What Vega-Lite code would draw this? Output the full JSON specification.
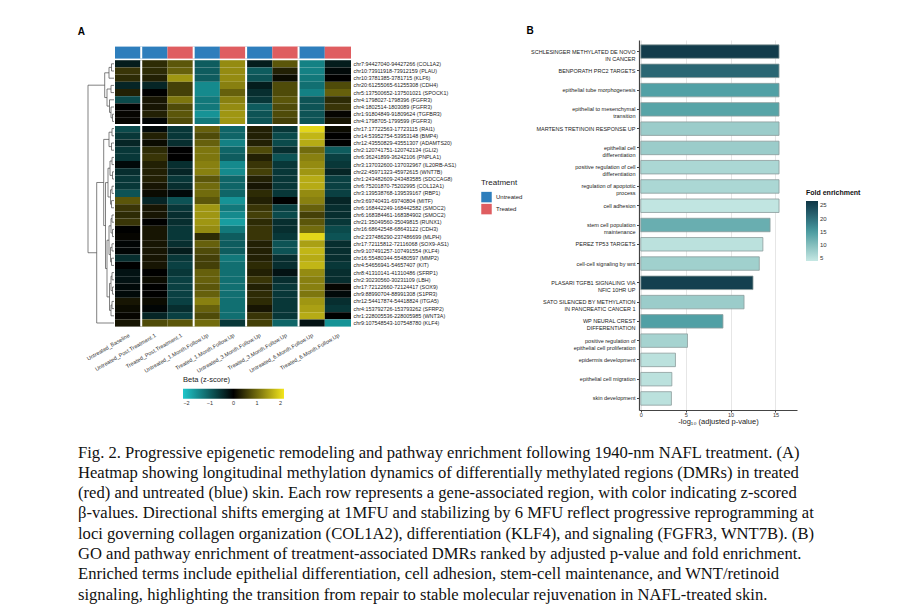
{
"$schema":"https://vega.github.io/schema/vega-lite/v6.json",
"background":"white",
"padding":{"left":77,"top":26,"right":5,"bottom":5},
"config":{"font":"Liberation Sans","view":{"stroke":null}},
"datasets":{
"regions":[
{"r":1,"region":"chr7:94427040-94427266 (COL1A2)"},
{"r":2,"region":"chr10:73911918-73912159 (PLAU)"},
{"r":3,"region":"chr10:3781385-3781715 (KLF6)"},
{"r":4,"region":"chr20:61255065-61255308 (CDH4)"},
{"r":5,"region":"chr5:137500652-137501021 (SPOCK1)"},
{"r":6,"region":"chr4:1798027-1798396 (FGFR3)"},
{"r":7,"region":"chr4:1802514-1803089 (FGFR3)"},
{"r":8,"region":"chr1:91804849-91809624 (TGFBR3)"},
{"r":9,"region":"chr4:1798705-1799599 (FGFR3)"},
{"r":10,"region":"chr17:17722563-17723115 (RAI1)"},
{"r":11,"region":"chr14:53952754-53953148 (BMP4)"},
{"r":12,"region":"chr12:43550829-43551307 (ADAMTS20)"},
{"r":13,"region":"chr2:120741751-120742134 (GLI2)"},
{"r":14,"region":"chr6:36241899-36242106 (PNPLA1)"},
{"r":15,"region":"chr3:137032600-137032967 (IL20RB-AS1)"},
{"r":16,"region":"chr22:45971323-45972615 (WNT7B)"},
{"r":17,"region":"chr1:243482609-243483585 (SDCCAG8)"},
{"r":18,"region":"chr6:75201870-75202995 (COL12A1)"},
{"r":19,"region":"chr3:139538768-139539167 (RBP1)"},
{"r":20,"region":"chr3:69740431-69740804 (MITF)"},
{"r":21,"region":"chr6:168442249-168442582 (SMOC2)"},
{"r":22,"region":"chr6:168384461-168384902 (SMOC2)"},
{"r":23,"region":"chr21:35049560-35049815 (RUNX1)"},
{"r":24,"region":"chr16:68642548-68643122 (CDH3)"},
{"r":25,"region":"chr2:237486290-237486699 (MLPH)"},
{"r":26,"region":"chr17:72115812-72116068 (SOX9-AS1)"},
{"r":27,"region":"chr9:107491257-107491554 (KLF4)"},
{"r":28,"region":"chr16:55480344-55480597 (MMP2)"},
{"r":29,"region":"chr4:54656941-54657407 (KIT)"},
{"r":30,"region":"chr8:41310141-41310486 (SFRP1)"},
{"r":31,"region":"chr2:30230560-30231109 (LBH)"},
{"r":32,"region":"chr17:72122660-72124417 (SOX9)"},
{"r":33,"region":"chr9:88990704-88991308 (S1PR3)"},
{"r":34,"region":"chr12:54417874-54418824 (ITGA5)"},
{"r":35,"region":"chr4:153792726-153793262 (SFRP2)"},
{"r":36,"region":"chr1:228005536-228005985 (WNT3A)"},
{"r":37,"region":"chr9:107548543-107548780 (KLF4)"}
],
"samples":[
{"s":"UB","sample":"Untreated_Baseline","treatment":"Untreated"},
{"s":"UP1","sample":"Untreated_Post.Treatment.1","treatment":"Untreated"},
{"s":"TP1","sample":"Treated_Post.Treatment.1","treatment":"Treated"},
{"s":"U1","sample":"Untreated_1.Month.Follow.Up","treatment":"Untreated"},
{"s":"T1","sample":"Treated_1.Month.Follow.Up","treatment":"Treated"},
{"s":"U3","sample":"Untreated_3.Month.Follow.Up","treatment":"Untreated"},
{"s":"T3","sample":"Treated_3.Month.Follow.Up","treatment":"Treated"},
{"s":"U6","sample":"Untreated_6.Month.Follow.Up","treatment":"Untreated"},
{"s":"T6","sample":"Treated_6.Month.Follow.Up","treatment":"Treated"}
],
"cells":[
{"r":1,"s":"UB","z":-0.3},{"r":1,"s":"UP1","z":0.4},{"r":1,"s":"TP1","z":0.8},{"r":1,"s":"U1","z":-1.0},{"r":1,"s":"T1","z":1.3},{"r":1,"s":"U3","z":-0.3},{"r":1,"s":"T3","z":0.8},{"r":1,"s":"U6","z":-1.4},{"r":1,"s":"T6","z":-0.3},
{"r":2,"s":"UB","z":0.5},{"r":2,"s":"UP1","z":0.4},{"r":2,"s":"TP1","z":0.9},{"r":2,"s":"U1","z":-1.0},{"r":2,"s":"T1","z":1.3},{"r":2,"s":"U3","z":-1.0},{"r":2,"s":"T3","z":0.3},{"r":2,"s":"U6","z":-1.4},{"r":2,"s":"T6","z":-0.1},
{"r":3,"s":"UB","z":0.4},{"r":3,"s":"UP1","z":0.3},{"r":3,"s":"TP1","z":1.4},{"r":3,"s":"U1","z":-1.0},{"r":3,"s":"T1","z":1.3},{"r":3,"s":"U3","z":-0.9},{"r":3,"s":"T3","z":0.1},{"r":3,"s":"U6","z":-1.3},{"r":3,"s":"T6","z":0.0},
{"r":4,"s":"UB","z":-0.4},{"r":4,"s":"UP1","z":-0.4},{"r":4,"s":"TP1","z":0.6},{"r":4,"s":"U1","z":-1.5},{"r":4,"s":"T1","z":1.2},{"r":4,"s":"U3","z":-0.3},{"r":4,"s":"T3","z":0.7},{"r":4,"s":"U6","z":-1.2},{"r":4,"s":"T6","z":0.7},
{"r":5,"s":"UB","z":0.3},{"r":5,"s":"UP1","z":0.0},{"r":5,"s":"TP1","z":0.6},{"r":5,"s":"U1","z":-1.5},{"r":5,"s":"T1","z":0.9},{"r":5,"s":"U3","z":-0.5},{"r":5,"s":"T3","z":0.7},{"r":5,"s":"U6","z":-1.4},{"r":5,"s":"T6","z":0.9},
{"r":6,"s":"UB","z":-0.8},{"r":6,"s":"UP1","z":0.2},{"r":6,"s":"TP1","z":1.1},{"r":6,"s":"U1","z":-1.3},{"r":6,"s":"T1","z":1.2},{"r":6,"s":"U3","z":-0.6},{"r":6,"s":"T3","z":0.8},{"r":6,"s":"U6","z":-0.9},{"r":6,"s":"T6","z":0.4},
{"r":7,"s":"UB","z":0.0},{"r":7,"s":"UP1","z":0.2},{"r":7,"s":"TP1","z":0.7},{"r":7,"s":"U1","z":-1.3},{"r":7,"s":"T1","z":1.3},{"r":7,"s":"U3","z":-1.0},{"r":7,"s":"T3","z":0.7},{"r":7,"s":"U6","z":-0.9},{"r":7,"s":"T6","z":0.5},
{"r":8,"s":"UB","z":0.05},{"r":8,"s":"UP1","z":0.3},{"r":8,"s":"TP1","z":0.8},{"r":8,"s":"U1","z":-1.6},{"r":8,"s":"T1","z":1.4},{"r":8,"s":"U3","z":-0.9},{"r":8,"s":"T3","z":0.7},{"r":8,"s":"U6","z":-0.9},{"r":8,"s":"T6","z":0.05},
{"r":9,"s":"UB","z":0.05},{"r":9,"s":"UP1","z":-0.05},{"r":9,"s":"TP1","z":0.7},{"r":9,"s":"U1","z":-1.3},{"r":9,"s":"T1","z":1.4},{"r":9,"s":"U3","z":-0.9},{"r":9,"s":"T3","z":0.6},{"r":9,"s":"U6","z":-0.9},{"r":9,"s":"T6","z":0.2},
{"r":10,"s":"UB","z":-0.8},{"r":10,"s":"UP1","z":-0.1},{"r":10,"s":"TP1","z":-0.6},{"r":10,"s":"U1","z":0.9},{"r":10,"s":"T1","z":-1.1},{"r":10,"s":"U3","z":0.3},{"r":10,"s":"T3","z":-0.6},{"r":10,"s":"U6","z":2.0},{"r":10,"s":"T6","z":0.1},
{"r":11,"s":"UB","z":-0.6},{"r":11,"s":"UP1","z":0.3},{"r":11,"s":"TP1","z":-0.6},{"r":11,"s":"U1","z":0.7},{"r":11,"s":"T1","z":-1.1},{"r":11,"s":"U3","z":0.3},{"r":11,"s":"T3","z":-0.8},{"r":11,"s":"U6","z":1.7},{"r":11,"s":"T6","z":0.0},
{"r":12,"s":"UB","z":-0.4},{"r":12,"s":"UP1","z":0.1},{"r":12,"s":"TP1","z":-0.5},{"r":12,"s":"U1","z":0.9},{"r":12,"s":"T1","z":-1.4},{"r":12,"s":"U3","z":0.3},{"r":12,"s":"T3","z":-0.8},{"r":12,"s":"U6","z":1.6},{"r":12,"s":"T6","z":0.0},
{"r":13,"s":"UB","z":-0.6},{"r":13,"s":"UP1","z":0.4},{"r":13,"s":"TP1","z":0.0},{"r":13,"s":"U1","z":1.1},{"r":13,"s":"T1","z":-1.1},{"r":13,"s":"U3","z":0.7},{"r":13,"s":"T3","z":-0.5},{"r":13,"s":"U6","z":1.0},{"r":13,"s":"T6","z":-1.0},
{"r":14,"s":"UB","z":-0.6},{"r":14,"s":"UP1","z":0.5},{"r":14,"s":"TP1","z":0.0},{"r":14,"s":"U1","z":1.1},{"r":14,"s":"T1","z":-1.0},{"r":14,"s":"U3","z":0.3},{"r":14,"s":"T3","z":-0.9},{"r":14,"s":"U6","z":1.2},{"r":14,"s":"T6","z":-0.7},
{"r":15,"s":"UB","z":-0.1},{"r":15,"s":"UP1","z":0.3},{"r":15,"s":"TP1","z":-0.5},{"r":15,"s":"U1","z":1.2},{"r":15,"s":"T1","z":-1.5},{"r":15,"s":"U3","z":0.5},{"r":15,"s":"T3","z":-0.6},{"r":15,"s":"U6","z":1.3},{"r":15,"s":"T6","z":-0.6},
{"r":16,"s":"UB","z":-0.5},{"r":16,"s":"UP1","z":0.3},{"r":16,"s":"TP1","z":-0.4},{"r":16,"s":"U1","z":1.2},{"r":16,"s":"T1","z":-1.5},{"r":16,"s":"U3","z":0.6},{"r":16,"s":"T3","z":-0.6},{"r":16,"s":"U6","z":1.4},{"r":16,"s":"T6","z":-0.4},
{"r":17,"s":"UB","z":-0.6},{"r":17,"s":"UP1","z":0.3},{"r":17,"s":"TP1","z":-0.6},{"r":17,"s":"U1","z":0.8},{"r":17,"s":"T1","z":-1.1},{"r":17,"s":"U3","z":0.3},{"r":17,"s":"T3","z":-0.6},{"r":17,"s":"U6","z":1.6},{"r":17,"s":"T6","z":-0.7},
{"r":18,"s":"UB","z":-0.6},{"r":18,"s":"UP1","z":0.2},{"r":18,"s":"TP1","z":-0.5},{"r":18,"s":"U1","z":1.0},{"r":18,"s":"T1","z":-1.1},{"r":18,"s":"U3","z":0.2},{"r":18,"s":"T3","z":-0.6},{"r":18,"s":"U6","z":1.6},{"r":18,"s":"T6","z":-0.7},
{"r":19,"s":"UB","z":-0.9},{"r":19,"s":"UP1","z":0.1},{"r":19,"s":"TP1","z":-0.1},{"r":19,"s":"U1","z":1.0},{"r":19,"s":"T1","z":-1.1},{"r":19,"s":"U3","z":0.4},{"r":19,"s":"T3","z":-0.6},{"r":19,"s":"U6","z":1.3},{"r":19,"s":"T6","z":-0.7},
{"r":20,"s":"UB","z":0.8},{"r":20,"s":"UP1","z":-0.4},{"r":20,"s":"TP1","z":-0.9},{"r":20,"s":"U1","z":0.8},{"r":20,"s":"T1","z":-1.6},{"r":20,"s":"U3","z":0.3},{"r":20,"s":"T3","z":0.0},{"r":20,"s":"U6","z":1.2},{"r":20,"s":"T6","z":-0.4},
{"r":21,"s":"UB","z":0.5},{"r":21,"s":"UP1","z":0.2},{"r":21,"s":"TP1","z":-0.6},{"r":21,"s":"U1","z":1.4},{"r":21,"s":"T1","z":-1.3},{"r":21,"s":"U3","z":0.5},{"r":21,"s":"T3","z":-0.7},{"r":21,"s":"U6","z":0.9},{"r":21,"s":"T6","z":-0.5},
{"r":22,"s":"UB","z":0.4},{"r":22,"s":"UP1","z":0.2},{"r":22,"s":"TP1","z":-0.5},{"r":22,"s":"U1","z":1.4},{"r":22,"s":"T1","z":-1.5},{"r":22,"s":"U3","z":0.6},{"r":22,"s":"T3","z":-0.8},{"r":22,"s":"U6","z":0.6},{"r":22,"s":"T6","z":-0.5},
{"r":23,"s":"UB","z":0.5},{"r":23,"s":"UP1","z":0.0},{"r":23,"s":"TP1","z":-0.5},{"r":23,"s":"U1","z":1.4},{"r":23,"s":"T1","z":-1.7},{"r":23,"s":"U3","z":0.4},{"r":23,"s":"T3","z":-0.5},{"r":23,"s":"U6","z":0.8},{"r":23,"s":"T6","z":-0.6},
{"r":24,"s":"UB","z":0.0},{"r":24,"s":"UP1","z":0.2},{"r":24,"s":"TP1","z":-0.6},{"r":24,"s":"U1","z":1.3},{"r":24,"s":"T1","z":-1.3},{"r":24,"s":"U3","z":0.5},{"r":24,"s":"T3","z":-0.5},{"r":24,"s":"U6","z":1.0},{"r":24,"s":"T6","z":-0.8},
{"r":25,"s":"UB","z":0.05},{"r":25,"s":"UP1","z":0.2},{"r":25,"s":"TP1","z":-0.6},{"r":25,"s":"U1","z":0.4},{"r":25,"s":"T1","z":-1.0},{"r":25,"s":"U3","z":0.5},{"r":25,"s":"T3","z":-0.6},{"r":25,"s":"U6","z":2.0},{"r":25,"s":"T6","z":-0.9},
{"r":26,"s":"UB","z":-0.05},{"r":26,"s":"UP1","z":0.2},{"r":26,"s":"TP1","z":-0.5},{"r":26,"s":"U1","z":0.9},{"r":26,"s":"T1","z":-1.0},{"r":26,"s":"U3","z":0.3},{"r":26,"s":"T3","z":-0.9},{"r":26,"s":"U6","z":1.5},{"r":26,"s":"T6","z":-0.5},
{"r":27,"s":"UB","z":-0.05},{"r":27,"s":"UP1","z":0.2},{"r":27,"s":"TP1","z":-0.3},{"r":27,"s":"U1","z":0.7},{"r":27,"s":"T1","z":-1.0},{"r":27,"s":"U3","z":0.3},{"r":27,"s":"T3","z":-0.9},{"r":27,"s":"U6","z":1.7},{"r":27,"s":"T6","z":-0.5},
{"r":28,"s":"UB","z":-0.5},{"r":28,"s":"UP1","z":0.2},{"r":28,"s":"TP1","z":-0.6},{"r":28,"s":"U1","z":0.6},{"r":28,"s":"T1","z":-1.3},{"r":28,"s":"U3","z":0.3},{"r":28,"s":"T3","z":-0.5},{"r":28,"s":"U6","z":1.6},{"r":28,"s":"T6","z":-0.5},
{"r":29,"s":"UB","z":0.0},{"r":29,"s":"UP1","z":0.2},{"r":29,"s":"TP1","z":-0.7},{"r":29,"s":"U1","z":0.6},{"r":29,"s":"T1","z":-1.2},{"r":29,"s":"U3","z":0.4},{"r":29,"s":"T3","z":-0.5},{"r":29,"s":"U6","z":1.7},{"r":29,"s":"T6","z":-0.6},
{"r":30,"s":"UB","z":-0.2},{"r":30,"s":"UP1","z":0.0},{"r":30,"s":"TP1","z":-0.6},{"r":30,"s":"U1","z":0.9},{"r":30,"s":"T1","z":-1.2},{"r":30,"s":"U3","z":0.3},{"r":30,"s":"T3","z":-0.2},{"r":30,"s":"U6","z":1.3},{"r":30,"s":"T6","z":-0.5},
{"r":31,"s":"UB","z":-0.2},{"r":31,"s":"UP1","z":0.1},{"r":31,"s":"TP1","z":-0.7},{"r":31,"s":"U1","z":0.9},{"r":31,"s":"T1","z":-1.2},{"r":31,"s":"U3","z":0.5},{"r":31,"s":"T3","z":-0.5},{"r":31,"s":"U6","z":1.2},{"r":31,"s":"T6","z":-0.5},
{"r":32,"s":"UB","z":-0.1},{"r":32,"s":"UP1","z":0.0},{"r":32,"s":"TP1","z":-0.7},{"r":32,"s":"U1","z":0.8},{"r":32,"s":"T1","z":-1.2},{"r":32,"s":"U3","z":0.3},{"r":32,"s":"T3","z":-0.6},{"r":32,"s":"U6","z":1.2},{"r":32,"s":"T6","z":0.05},
{"r":33,"s":"UB","z":-0.1},{"r":33,"s":"UP1","z":0.0},{"r":33,"s":"TP1","z":-0.7},{"r":33,"s":"U1","z":0.9},{"r":33,"s":"T1","z":-1.2},{"r":33,"s":"U3","z":0.4},{"r":33,"s":"T3","z":-0.6},{"r":33,"s":"U6","z":1.1},{"r":33,"s":"T6","z":-0.1},
{"r":34,"s":"UB","z":0.2},{"r":34,"s":"UP1","z":0.1},{"r":34,"s":"TP1","z":-0.7},{"r":34,"s":"U1","z":1.2},{"r":34,"s":"T1","z":-1.2},{"r":34,"s":"U3","z":0.4},{"r":34,"s":"T3","z":-0.6},{"r":34,"s":"U6","z":1.4},{"r":34,"s":"T6","z":-0.5},
{"r":35,"s":"UB","z":0.1},{"r":35,"s":"UP1","z":-0.05},{"r":35,"s":"TP1","z":-0.5},{"r":35,"s":"U1","z":0.9},{"r":35,"s":"T1","z":-1.2},{"r":35,"s":"U3","z":0.2},{"r":35,"s":"T3","z":-0.6},{"r":35,"s":"U6","z":1.5},{"r":35,"s":"T6","z":-0.6},
{"r":36,"s":"UB","z":0.05},{"r":36,"s":"UP1","z":-0.4},{"r":36,"s":"TP1","z":-0.7},{"r":36,"s":"U1","z":0.7},{"r":36,"s":"T1","z":-1.2},{"r":36,"s":"U3","z":0.5},{"r":36,"s":"T3","z":-0.6},{"r":36,"s":"U6","z":1.6},{"r":36,"s":"T6","z":0.0},
{"r":37,"s":"UB","z":0.2},{"r":37,"s":"UP1","z":0.7},{"r":37,"s":"TP1","z":0.8},{"r":37,"s":"U1","z":1.0},{"r":37,"s":"T1","z":-0.6},{"r":37,"s":"U3","z":0.6},{"r":37,"s":"T3","z":-1.1},{"r":37,"s":"U6","z":-0.2},{"r":37,"s":"T6","z":-1.6}
],
"tree":[
{"h":2.5,"pa":0.5,"pb":1.5,"ha":0,"hb":0},
{"h":5,"pa":1.0,"pb":2.5,"ha":2.5,"hb":0},
{"h":3,"pa":3.5,"pb":4.5,"ha":0,"hb":0},
{"h":1.5,"pa":7.5,"pb":8.5,"ha":0,"hb":0},
{"h":3,"pa":6.5,"pb":8.0,"ha":0,"hb":1.5},
{"h":4.5,"pa":5.5,"pb":7.25,"ha":0,"hb":3},
{"h":7,"pa":4.0,"pb":6.375,"ha":3,"hb":4.5},
{"h":9.3,"pa":1.75,"pb":5.1875,"ha":5,"hb":7},
{"h":2,"pa":9.5,"pb":10.5,"ha":0,"hb":0},
{"h":2.5,"pa":11.5,"pb":12.5,"ha":0,"hb":0},
{"h":5,"pa":10.0,"pb":12.0,"ha":2,"hb":2.5},
{"h":2,"pa":13.5,"pb":14.5,"ha":0,"hb":0},
{"h":1.5,"pa":15.5,"pb":16.5,"ha":0,"hb":0},
{"h":4,"pa":14.0,"pb":16.0,"ha":2,"hb":1.5},
{"h":2,"pa":17.5,"pb":18.5,"ha":0,"hb":0},
{"h":2.5,"pa":19.5,"pb":20.5,"ha":0,"hb":0},
{"h":3.5,"pa":18.0,"pb":20.0,"ha":2,"hb":2.5},
{"h":6,"pa":15.0,"pb":19.0,"ha":4,"hb":3.5},
{"h":2,"pa":21.5,"pb":22.5,"ha":0,"hb":0},
{"h":1.5,"pa":23.5,"pb":24.5,"ha":0,"hb":0},
{"h":3,"pa":22.0,"pb":24.0,"ha":2,"hb":1.5},
{"h":2,"pa":25.5,"pb":26.5,"ha":0,"hb":0},
{"h":2.5,"pa":27.5,"pb":28.5,"ha":0,"hb":0},
{"h":3.5,"pa":26.0,"pb":28.0,"ha":2,"hb":2.5},
{"h":5,"pa":23.0,"pb":27.0,"ha":3,"hb":3.5},
{"h":2,"pa":29.5,"pb":30.5,"ha":0,"hb":0},
{"h":1.5,"pa":31.5,"pb":32.5,"ha":0,"hb":0},
{"h":3,"pa":30.0,"pb":32.0,"ha":2,"hb":1.5},
{"h":2,"pa":33.5,"pb":34.5,"ha":0,"hb":0},
{"h":3,"pa":34.0,"pb":35.5,"ha":2,"hb":0},
{"h":4.5,"pa":31.0,"pb":34.75,"ha":3,"hb":3},
{"h":7,"pa":25.0,"pb":32.875,"ha":5,"hb":4.5},
{"h":8.5,"pa":17.0,"pb":28.9375,"ha":6,"hb":7},
{"h":10.3,"pa":11.0,"pb":22.96875,"ha":5,"hb":8.5},
{"h":17.3,"pa":16.984,"pb":36.5,"ha":10.3,"hb":0},
{"h":26,"pa":3.469,"pb":26.742,"ha":9.3,"hb":17.3}
],
"terms":[
{"term":"SCHLESINGER METHYLATED DE NOVO\nIN CANCER","p":15.4,"fold":26},
{"term":"BENPORATH PRC2 TARGETS","p":15.4,"fold":21},
{"term":"epithelial tube morphogenesis","p":15.4,"fold":14.5},
{"term":"epithelial to mesenchymal\ntransition","p":15.4,"fold":14},
{"term":"MARTENS TRETINOIN RESPONSE UP","p":15.4,"fold":8},
{"term":"epithelial cell\ndifferentiation","p":15.4,"fold":8},
{"term":"positive regulation of cell\ndifferentiation","p":15.4,"fold":6.5},
{"term":"regulation of apoptotic\nprocess","p":15.4,"fold":6.5},
{"term":"cell adhesion","p":15.4,"fold":4.5},
{"term":"stem cell population\nmaintenance","p":14.4,"fold":12.5},
{"term":"PEREZ TP53 TARGETS","p":13.6,"fold":5},
{"term":"cell-cell signaling by wnt","p":13.2,"fold":7.5},
{"term":"PLASARI TGFB1 SIGNALING VIA\nNFIC 10HR UP","p":12.5,"fold":25.5},
{"term":"SATO SILENCED BY METHYLATION\nIN PANCREATIC CANCER 1","p":11.5,"fold":8},
{"term":"WP NEURAL CREST\nDIFFERENTIATION","p":9.15,"fold":14.5},
{"term":"positive regulation of\nepithelial cell proliferation","p":5.2,"fold":7},
{"term":"epidermis development","p":3.86,"fold":5},
{"term":"epithelial cell migration","p":3.46,"fold":5},
{"term":"skin development","p":3.41,"fold":5}
]
},
"title":{"text":[
"Fig. 2.  Progressive epigenetic remodeling and pathway enrichment following 1940-nm NAFL treatment. (A)",
"Heatmap showing longitudinal methylation dynamics of differentially methylated regions (DMRs) in treated",
"(red) and untreated (blue) skin. Each row represents a gene-associated region, with color indicating z-scored",
"β-values. Directional shifts emerging at 1MFU and stabilizing by 6 MFU reflect progressive reprogramming at",
"loci governing collagen organization (COL1A2), differentiation (KLF4), and signaling (FGFR3, WNT7B). (B)",
"GO and pathway enrichment of treatment-associated DMRs ranked by adjusted p-value and fold enrichment.",
"Enriched terms include epithelial differentiation, cell adhesion, stem-cell maintenance, and WNT/retinoid",
"signaling, highlighting the transition from repair to stable molecular rejuvenation in NAFL-treated skin."
],"orient":"bottom","anchor":"start","frame":"group","dx":-10,"offset":20,"font":"Liberation Serif","fontSize":16.6,"fontWeight":"normal","lineHeight":20.3,"color":"#111"},
"resolve":{"scale":{"x":"independent","y":"independent","color":"independent","fill":"independent"}},
"spacing":3,
"hconcat":[
{
"title":{"text":"A","anchor":"start","fontSize":10,"fontWeight":"bold","dx":-8,"offset":3,"color":"#000"},
"columns":2,
"bounds":"flush",
"spacing":{"row":1.6,"column":0},
"resolve":{"scale":{"x":"independent","y":"independent","color":"independent","fill":"independent"}},
"concat":[
{"width":27,"height":4.6,"data":{"values":[]},"mark":"rect","encoding":{}},
{"width":236,"height":4.6,"data":{"values":[]},"mark":"rect","encoding":{}},
{"width":27,"height":12,"data":{"values":[]},"mark":"rect","encoding":{}},
{"width":236,"height":12,"data":{"name":"samples"},
"layer":[
{"mark":{"type":"rect"},"encoding":{
"x":{"field":"sample","type":"nominal","scale":{"domain":["Untreated_Baseline","Untreated_Post.Treatment.1","Treated_Post.Treatment.1","Untreated_1.Month.Follow.Up","Treated_1.Month.Follow.Up","Untreated_3.Month.Follow.Up","Treated_3.Month.Follow.Up","Untreated_6.Month.Follow.Up","Treated_6.Month.Follow.Up"],"paddingInner":0,"paddingOuter":0},"axis":null},
"fill":{"field":"treatment","type":"nominal","scale":{"domain":["Untreated","Treated"],"range":["#2e7ebc","#df5d60"]},
"legend":{"orient":"none","legendX":366,"legendY":132,"title":"Treatment","titleFontSize":8,"titleFontWeight":"normal","titleColor":"#222","labelFontSize":6,"labelColor":"#222","symbolType":"square","symbolSize":110,"symbolStrokeWidth":0,"rowPadding":1}}}},
{"data":{"values":[{"sample":"Untreated_Post.Treatment.1"},{"sample":"Untreated_1.Month.Follow.Up"},{"sample":"Untreated_3.Month.Follow.Up"},{"sample":"Untreated_6.Month.Follow.Up"}]},
"mark":{"type":"rule","color":"white","strokeWidth":2},
"encoding":{"x":{"field":"sample","type":"nominal","bandPosition":0}}}
]},
{"width":27,"height":266.4,"data":{"name":"tree"},
"layer":[
{"mark":{"type":"rule","color":"#4a4a4a","strokeWidth":0.7},"encoding":{
"x":{"field":"h","type":"quantitative","scale":{"domain":[-1,26],"reverse":true,"nice":false,"zero":false},"axis":null},
"y":{"field":"pa","type":"quantitative","scale":{"domain":[0,37],"reverse":true,"nice":false,"zero":false},"axis":null},
"y2":{"field":"pb"}}},
{"mark":{"type":"rule","color":"#4a4a4a","strokeWidth":0.7},"encoding":{
"x":{"field":"ha","type":"quantitative"},"x2":{"field":"h"},
"y":{"field":"pa","type":"quantitative"}}},
{"mark":{"type":"rule","color":"#4a4a4a","strokeWidth":0.7},"encoding":{
"x":{"field":"hb","type":"quantitative"},"x2":{"field":"h"},
"y":{"field":"pb","type":"quantitative"}}}
]},
{"width":236,"height":266.4,
"layer":[
{"data":{"name":"cells"},
"transform":[
{"lookup":"r","from":{"data":{"name":"regions"},"key":"r","fields":["region"]}},
{"lookup":"s","from":{"data":{"name":"samples"},"key":"s","fields":["sample"]}}
],
"mark":{"type":"rect"},
"encoding":{
"x":{"field":"sample","type":"nominal","scale":{"domain":["Untreated_Baseline","Untreated_Post.Treatment.1","Treated_Post.Treatment.1","Untreated_1.Month.Follow.Up","Treated_1.Month.Follow.Up","Untreated_3.Month.Follow.Up","Treated_3.Month.Follow.Up","Untreated_6.Month.Follow.Up","Treated_6.Month.Follow.Up"],"paddingInner":0,"paddingOuter":0},
"axis":{"orient":"bottom","title":null,"domain":false,"ticks":false,"labelAngle":-30,"labelAlign":"right","labelBaseline":"top","labelFontSize":5.5,"labelColor":"#333","labelPadding":6}},
"y":{"field":"region","type":"nominal","scale":{"domain":["chr7:94427040-94427266 (COL1A2)","chr10:73911918-73912159 (PLAU)","chr10:3781385-3781715 (KLF6)","chr20:61255065-61255308 (CDH4)","chr5:137500652-137501021 (SPOCK1)","chr4:1798027-1798396 (FGFR3)","chr4:1802514-1803089 (FGFR3)","chr1:91804849-91809624 (TGFBR3)","chr4:1798705-1799599 (FGFR3)","chr17:17722563-17723115 (RAI1)","chr14:53952754-53953148 (BMP4)","chr12:43550829-43551307 (ADAMTS20)","chr2:120741751-120742134 (GLI2)","chr6:36241899-36242106 (PNPLA1)","chr3:137032600-137032967 (IL20RB-AS1)","chr22:45971323-45972615 (WNT7B)","chr1:243482609-243483585 (SDCCAG8)","chr6:75201870-75202995 (COL12A1)","chr3:139538768-139539167 (RBP1)","chr3:69740431-69740804 (MITF)","chr6:168442249-168442582 (SMOC2)","chr6:168384461-168384902 (SMOC2)","chr21:35049560-35049815 (RUNX1)","chr16:68642548-68643122 (CDH3)","chr2:237486290-237486699 (MLPH)","chr17:72115812-72116068 (SOX9-AS1)","chr9:107491257-107491554 (KLF4)","chr16:55480344-55480597 (MMP2)","chr4:54656941-54657407 (KIT)","chr8:41310141-41310486 (SFRP1)","chr2:30230560-30231109 (LBH)","chr17:72122660-72124417 (SOX9)","chr9:88990704-88991308 (S1PR3)","chr12:54417874-54418824 (ITGA5)","chr4:153792726-153793262 (SFRP2)","chr1:228005536-228005985 (WNT3A)","chr9:107548543-107548780 (KLF4)"],"paddingInner":0,"paddingOuter":0},
"axis":{"orient":"right","title":null,"domain":false,"ticks":false,"labelFontSize":5.4,"labelColor":"#222","labelPadding":2,"labelLimit":200}},
"color":{"field":"z","type":"quantitative","scale":{"domain":[-2.15,0,2.15],"range":["#1ec6ca","#000000","#f4e61c"],"interpolate":"rgb"},
"legend":{"orient":"none","direction":"horizontal","legendX":68,"legendY":316,"title":"Beta (z-score)","titleFontSize":7.5,"titleFontWeight":"normal","titleColor":"#222","gradientLength":101,"gradientThickness":10,"labelFontSize":5.5,"labelColor":"#333","values":[-2,-1,0,1,2],"titlePadding":5}}
}},
{"data":{"values":[{"sample":"Untreated_Post.Treatment.1"},{"sample":"Untreated_1.Month.Follow.Up"},{"sample":"Untreated_3.Month.Follow.Up"},{"sample":"Untreated_6.Month.Follow.Up"}]},
"mark":{"type":"rule","color":"white","strokeWidth":2},
"encoding":{"x":{"field":"sample","type":"nominal","bandPosition":0}}},
{"data":{"values":[{"region":"chr17:17722563-17723115 (RAI1)"}]},
"mark":{"type":"rule","color":"white","strokeWidth":2},
"encoding":{"y":{"field":"region","type":"nominal","bandPosition":0}}}
]}
]
},
{
"title":{"text":"B","anchor":"start","frame":"bounds","fontSize":10,"fontWeight":"bold","offset":4,"dx":-4,"color":"#000"},
"width":158,"height":370,
"data":{"name":"terms"},
"mark":{"type":"bar","stroke":"#8c9c9c","strokeWidth":0.8},
"encoding":{
"y":{"field":"term","type":"nominal","sort":null,"scale":{"paddingInner":0.3,"paddingOuter":0.25},
"axis":{"title":null,"domain":true,"domainColor":"#444","domainWidth":1.2,"ticks":true,"tickSize":2.5,"tickColor":"#444","labelExpr":"split(datum.label, '\\n')","labelFontSize":5.5,"labelColor":"#222","labelLineHeight":7,"labelLimit":250,"labelPadding":1.5}},
"x":{"field":"p","type":"quantitative","scale":{"domain":[-0.2,17.4],"nice":false,"zero":false},
"axis":{"title":"-log₁₀ (adjusted p-value)","titleFontSize":7.5,"titleFontWeight":"normal","titleColor":"#222","titlePadding":-1,"values":[0,5,10,15],"grid":true,"gridColor":"#e6e6e6","domain":true,"domainColor":"#444","domainWidth":1.2,"tickSize":2,"tickColor":"#444","labelFontSize":5.5,"labelColor":"#333","labelPadding":0.5}},
"fill":{"field":"fold","type":"quantitative","scale":{"domain":[4,15,26.7],"range":["#c6e8e4","#4b9da2","#0f3645"]},
"legend":{"orient":"none","legendX":167,"legendY":149,"title":"Fold enrichment","titleFontSize":7,"titleFontWeight":"bold","titleColor":"#111","gradientLength":60,"gradientThickness":12,"labelFontSize":6,"labelColor":"#333","values":[5,10,15,20,25]}}
}
}
]
}
